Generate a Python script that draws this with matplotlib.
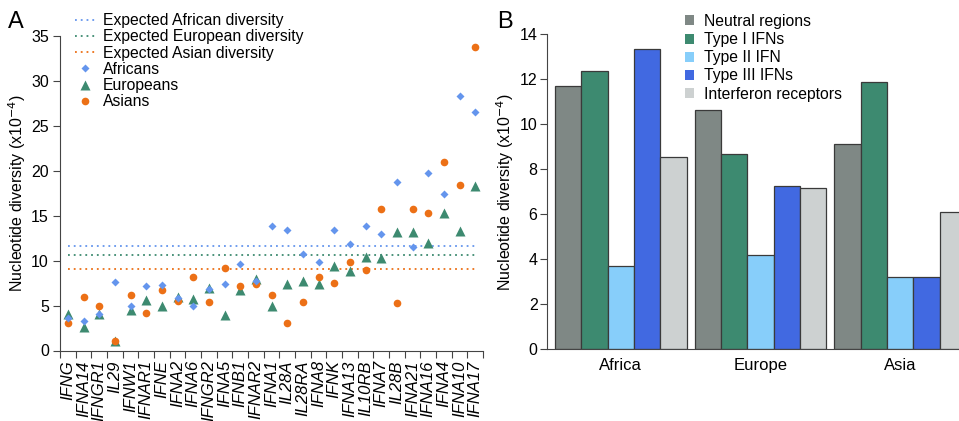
import matplotlib.pyplot as plt
import numpy as np

plt.rcParams['font.family'] = ['Liberation Sans', 'DejaVu Sans']

# Panel A data (nucleotide diversity, x10^-4)
genes = ["IFNG", "IFNA14", "IFNGR1", "IL29", "IFNW1", "IFNAR1", "IFNE", "IFNA2",
         "IFNA6", "IFNGR2", "IFNA5", "IFNB1", "IFNAR2", "IFNA1", "IL28A", "IL28RA",
         "IFNA8", "IFNK", "IFNA13", "IL10RB", "IFNA7", "IL28B", "IFNA21", "IFNA16",
         "IFNA4", "IFNA10", "IFNA17"]
africans = [3.6, 3.3, 4.1, 7.65, 4.95, 7.15, 7.25, 5.8, 4.95, 6.8, 7.35, 9.6, 7.7,
            13.85, 13.45, 10.7, 9.85, 13.45, 11.9, 13.85, 13.0, 18.7, 11.55, 19.7,
            17.45, 28.3, 26.5]
europeans = [4.1, 2.65, 4.05, 1.1, 4.5, 5.6, 4.95, 5.9, 5.7, 7.0, 3.95, 6.7, 8.0,
             4.95, 7.45, 7.7, 7.45, 9.4, 8.85, 10.45, 10.25, 13.2, 13.2, 12.0, 15.25,
             13.3, 18.3]
asians = [3.1, 5.9, 4.95, 1.1, 6.15, 4.15, 6.7, 5.55, 8.15, 5.45, 9.15, 7.2, 7.45,
          6.15, 3.1, 5.45, 8.2, 7.55, 9.85, 8.95, 15.7, 5.25, 15.7, 15.25, 21.0,
          18.45, 33.75]
expected = {"African": 11.65, "European": 10.6, "Asian": 9.1}

# Panel B data
regions = ["Africa", "Europe", "Asia"]
classes = ["Neutral regions", "Type I IFNs", "Type II IFN", "Type III IFNs",
           "Interferon receptors"]
neutral = [11.7, 10.65, 9.12]
type1 = [12.37, 8.67, 11.87]
type2 = [3.7, 4.19, 3.2]
type3 = [13.35, 7.26, 3.2]
receptors = [8.53, 7.16, 6.12]

c_afr = "#6495ed"
c_eur = "#3d8a70"
c_asi = "#ec7016"
bar_colors = ["#7f8885", "#3d8a70", "#87cefa", "#4169e1", "#cdd1d1"]

fig = plt.figure(figsize=(9.59, 4.21), dpi=100)

# ---- Panel A ----
ax = fig.add_axes([60 / 959, 1 - 350.5 / 421, 423 / 959, 314.5 / 421])
x = np.arange(len(genes))
dots = (0, (1, 2.2))
ax.plot([0, len(genes) - 1], [expected["African"]] * 2, color=c_afr, ls=dots, lw=1.3,
        label="Expected African diversity")
ax.plot([0, len(genes) - 1], [expected["European"]] * 2, color=c_eur, ls=dots, lw=1.3,
        label="Expected European diversity")
ax.plot([0, len(genes) - 1], [expected["Asian"]] * 2, color=c_asi, ls=dots, lw=1.3,
        label="Expected Asian diversity")
ax.plot(x, africans, "D", color=c_afr, ms=3.8, mec="none", zorder=5, label="Africans")
ax.plot(x, europeans, "^", color=c_eur, ms=6.5, mec="none", zorder=3, label="Europeans")
ax.plot(x, asians, "o", color=c_asi, ms=5.5, mec="none", zorder=4, label="Asians")

ax.set_xlim(-0.5, len(genes) - 0.5)
ax.set_ylim(0, 35)
ax.set_yticks(range(0, 36, 5))
ax.set_xticks(np.arange(-0.5, len(genes), 1.0))
ax.set_xticklabels([])
ax.set_xticks(x, minor=True)
ax.set_xticklabels(genes, minor=True, rotation=90, style="italic", fontsize=12)
ax.tick_params(axis="x", which="minor", length=0, pad=7)
ax.tick_params(axis="x", which="major", length=5, width=0.8, color="#444444")
ax.tick_params(axis="y", length=5, width=0.8, color="#444444", labelsize=11.5, pad=3)
ax.set_ylabel(r"Nucleotide diversity (x10$^{-4}$)", fontsize=11.5, labelpad=2)
for s in ["top", "right"]:
    ax.spines[s].set_visible(False)
for s in ["left", "bottom"]:
    ax.spines[s].set_color("#444444")
    ax.spines[s].set_linewidth(0.8)
ax.legend(loc="upper left", bbox_to_anchor=(75 / 959, 1 - 13 / 421),
          bbox_transform=fig.transFigure,
          frameon=False, fontsize=11.3, handlelength=1.3, handletextpad=0.5,
          labelspacing=0.08, borderaxespad=0, borderpad=0)
fig.text(8 / 959, 1 - 22 / 421, "A", fontsize=17, va="center")

# ---- Panel B ----
bx = fig.add_axes([547.3 / 959, 1 - 349.3 / 421, 426.4 / 959, 315 / 421])
gx = np.arange(len(regions))
w = 0.1885
series = [neutral, type1, type2, type3, receptors]
for i, (vals, name, col) in enumerate(zip(series, classes, bar_colors)):
    bx.bar(gx + (i - 2) * w, vals, width=w, color=col, edgecolor="#3a3a3a",
           linewidth=0.9, label=name)
bx.set_xlim(-0.526, 2.526)
bx.set_ylim(0, 14)
bx.set_yticks(range(0, 15, 2))
bx.set_xticks(gx)
bx.set_xticklabels(regions, fontsize=12)
bx.tick_params(axis="x", length=0, pad=6)
bx.tick_params(axis="y", length=5, width=0.8, color="#444444", labelsize=11.5, pad=2)
bx.set_ylabel(r"Nucleotide diversity (x10$^{-4}$)", fontsize=11.5, labelpad=3)
for s in ["top", "right"]:
    bx.spines[s].set_visible(False)
for s in ["left", "bottom"]:
    bx.spines[s].set_color("#444444")
    bx.spines[s].set_linewidth(0.8)
bx.legend(loc="upper left", bbox_to_anchor=(685 / 959, 1 - 14 / 421),
          bbox_transform=fig.transFigure,
          frameon=False, fontsize=11.3, handlelength=0.6, handleheight=0.6,
          handletextpad=0.6, labelspacing=0.2, borderaxespad=0, borderpad=0)
for p in bx.get_legend().get_patches():
    p.set_edgecolor("none")
fig.text(497 / 959, 1 - 22 / 421, "B", fontsize=17, va="center")

fig.savefig("out.png", dpi=100)
